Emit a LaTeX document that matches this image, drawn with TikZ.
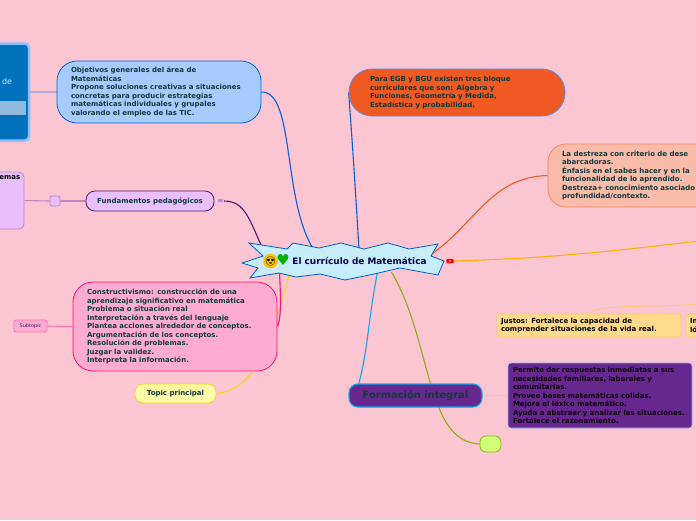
\documentclass[tikz,border=0pt]{standalone}
\usepackage{fontspec}
\setmainfont{DejaVu Sans}
\newfontfamily\emojifont{Noto Emoji}
\usetikzlibrary{calc,positioning,backgrounds}
\definecolor{bgpink}{HTML}{FCC5D2}
\definecolor{inktext}{HTML}{0E3B3A}
\definecolor{azul}{HTML}{0A5FD8}
\definecolor{morado}{HTML}{4A1A78}
\definecolor{rosa}{HTML}{FF1177}
\definecolor{naranja}{HTML}{F05A22}
\definecolor{ambar}{HTML}{FFB000}
\definecolor{celeste}{HTML}{12A5EE}
\definecolor{oliva}{HTML}{8CB014}
\definecolor{amarillo}{HTML}{F0D820}
\definecolor{uva}{HTML}{66288F}
\definecolor{lila}{HTML}{E9BFFF}
\definecolor{lilaborde}{HTML}{C084C0}
\definecolor{cielo}{HTML}{A6CBFF}
\definecolor{chicle}{HTML}{FFABD0}
\definecolor{salmon}{HTML}{FBBBAA}
\definecolor{miel}{HTML}{FFDA8C}
\definecolor{mielborde}{HTML}{FFC874}
\definecolor{lima}{HTML}{D0FF78}
\definecolor{marino}{HTML}{0071BC}
\definecolor{franja}{HTML}{8FBADD}
\definecolor{marco}{HTML}{8CBEFA}
\definecolor{enlace}{HTML}{B4AEDC}
\tikzset{
    topic/.style={draw, line width=0.8pt, rounded corners=#1, align=left, text=inktext, inner ysep=0pt,
        font=\bfseries\fontsize{7pt}{8.5pt}\selectfont},
    topic/.default=8pt,
    link/.style={line width=1.1pt},
    sublink/.style={line width=1.1pt}
}
\begin{document}
\begin{tikzpicture}[x=1pt, y=-1pt, line cap=round]
\useasboundingbox (0,0) rectangle (696,520);
\begin{scope}[on background layer]
    \fill[bgpink] (0,0) rectangle (696,520);
\end{scope}

% Imagen cortada
\node[topic=4pt, line width=2.5pt, draw=marco, fill=marino, minimum width=46pt, minimum height=97pt] (imagen) at (6,92) {};
\fill[franja] (-4,101) rectangle (26,115);
\node[text=white!80!cyan, font=\fontsize{8pt}{9pt}\selectfont] (imagende) at (7,81.5) {de};

% Ramas principales
\node[topic=20pt, draw=azul, fill=cielo, minimum width=204pt, minimum height=62pt, text width=176pt] (objetivos) at (159,92) {Objetivos generales del área de\\Matemáticas\\Propone soluciones creativas a situaciones\\concretas para producir estrategias\\matemáticas individuales y grupales\\valorando el empleo de las TIC.};
\node[topic=23pt, draw=azul!70!white, fill=naranja, minimum width=216pt, minimum height=47pt, text width=174pt] (bloque) at (457,92.5) {Para EGB y BGU existen tres bloque\\curriculares que son: Algebra y\\Funciones, Geometría y Medida,\\Estadística y probabilidad.};
\node[topic=18pt, draw=naranja!70!white, fill=salmon, minimum width=172pt, minimum height=63pt, text width=144pt] (destreza) at (634,175.5) {La destreza con criterio de dese\\abarcadoras.\\Énfasis en el sabes hacer y en la\\funcionalidad de lo aprendido.\\Destreza+ conocimiento asociado\\profundidad/contexto.};

% Fundamentos
\node[topic=5pt, draw=lilaborde, fill=lila, minimum width=34pt, minimum height=57pt] (temas) at (7,200.5) {};
\node[font=\bfseries\fontsize{7pt}{8.5pt}\selectfont, inner sep=0pt, anchor=north east] (temastexto) at ($(temas.north east)+(-4,4)$) {emas};
\node[topic=2pt, draw=lilaborde, fill=lila, minimum width=10pt, minimum height=10pt, inner sep=0pt] (nodito) at (55,201) {};
\node[topic=9pt, draw=morado, fill=lila, minimum width=128pt, minimum height=20pt] (fundamentos) at (150,201) {Fundamentos pedagógicos};
\node[text=morado, fill=lila, inner sep=0.5pt, font=\fontsize{6pt}{6pt}\selectfont] (menu) at (220.5,201) {$\equiv$};

% Constructivismo
\node[topic=20pt, draw=rosa, fill=chicle, minimum width=204pt, minimum height=89pt, text width=176pt] (constructivismo) at (175,326.5) {Constructivismo: construcción de una\\aprendizaje significativo en matemática\\Problema o situación real\\Interpretación a través del lenguaje\\Plantea acciones alrededor de conceptos.\\Argumentación de los conceptos.\\Resolución de problemas.\\Juzgar la validez.\\Interpreta la información.};
\node[topic=2pt, draw=rosa!60!white, fill=chicle, text=morado, minimum width=33pt, minimum height=12pt, inner sep=0pt, font=\fontsize{5pt}{6pt}\selectfont] (subtopic) at (30.5,326) {Subtopic};
\node[topic=8pt, draw=amarillo, fill=yellow!35!white, minimum width=81pt, minimum height=19pt] (principal) at (175.5,393.5) {Topic principal};

% Hojas a la derecha
\node[topic=3pt, draw=mielborde, text=black, fill=miel, minimum width=184pt, minimum height=23pt, text width=176pt] (justos) at (589,325.5) {Justos: Fortalece la capacidad de\\comprender situaciones de la vida real.};
\node[topic=3pt, draw=mielborde, text=black, fill=miel, minimum width=30pt, minimum height=23pt, text width=22pt] (logico) at (701,325.5) {In\\ló};

\node[topic=9pt, line width=1.1pt, draw=celeste, fill=uva, minimum width=133pt, minimum height=23pt, font=\bfseries\fontsize{9.9pt}{11pt}\selectfont] (formacion) at (415.5,395.5) {Formación integral};
\node[topic=3pt, draw=azul!50!white, text=black!90!violet, fill=uva, minimum width=184pt, minimum height=65pt, text width=174pt] (permite) at (600,395.5) {Permite dar respuestas inmediatas a sus\\necesidades familiares, laborales y\\comunitarias.\\Provee bases matemáticas colidas.\\Mejora el léxico matemático.\\Ayuda a abstraer y analizar las situaciones.\\Fortalece el razonamiento.};
\node[topic=6pt, draw=oliva, fill=lima, minimum width=21pt, minimum height=16pt, inner sep=0pt] (vacio) at (490.5,444) {};

% Tema central
\draw[line width=0.8pt, draw=blue!55!cyan!80!black, fill=cyan!22!white] (242,263) -- (263,256) -- (249,243) -- (287,249) -- (293,243) -- (319,248) -- (341,243) -- (364,249) -- (388,243) -- (409,249) -- (438,244) -- (431,256) -- (444,261) -- (438,275) -- (400,268) -- (374,274) -- (345,280) -- (320,274) -- (296,277) -- (279,273) -- (250,278) -- (258,268) -- cycle;
\node[font=\bfseries\fontsize{8.9pt}{10pt}\selectfont, text=blue!30!black, minimum width=170pt, minimum height=22pt, inner sep=0pt] (central) at (343,261) {\hspace*{33pt}El currículo de Matemática};
\node[circle, fill=ambar!80!yellow, inner sep=0pt, minimum size=11pt, font=\emojifont\fontsize{9pt}{9pt}\selectfont] (cara) at (270.5,261) {😍};
\node[inner sep=0pt, text=green!70!black, font=\fontsize{15pt}{15pt}\selectfont] (corazon) at (283,260.5) {♥};
\node[draw=red, fill=red, rounded corners=1pt, minimum width=7pt, minimum height=4pt, inner sep=0pt] (punto) at (450,261) {};
\node[fill=white, circle, inner sep=0.6pt] (puntoin) at (450,261) {};

% Puntos libres, fuera de la imagen
\coordinate (salidaambar) at (700,241);
\coordinate (salidajustos) at (700,304);

% Conectores
\begin{scope}[on background layer]
    \draw[link, azul] (objetivos.east) .. controls (295,91) and (282,200) .. (central.159);
    \draw[link, azul] (bloque.west) .. controls (353,150) and (356,200) .. (central.35);
    \draw[link, morado] (menu.east) .. controls (246,201) and (250,222) .. (central.172);
    \draw[link, naranja] (destreza.west) .. controls (490,177) and (475,225) .. (central.3);
    \draw[link, ambar] (punto.east) .. controls (560,258) and (620,250) .. (salidaambar);
    \draw[link, celeste] (formacion.168) .. controls (368,350) and (368,320) .. (central.342);
    \draw[link, oliva] (central.347) .. controls (432,340) and (425,442) .. (vacio.west);
    \draw[link, amarillo] (central.192) .. controls (272,330) and (262,388) .. (principal.east);
    \draw[link, rosa] (central.190) .. controls (281,300) and (281,320) .. (constructivismo.east);
    \draw[line width=0.7pt, mielborde] (justos.north) .. controls (596,304) and (650,308) .. (salidajustos);
    \draw[sublink, enlace] (imagen.east) -- (objetivos.west);
    \draw[sublink, lilaborde] (temas.east) -- (nodito.west);
    \draw[sublink, lilaborde] (nodito.east) -- (fundamentos.west);
    \draw[sublink, rosa!60!white] (subtopic.east) -- (constructivismo.west);
    \draw[sublink, cielo!80!white] (formacion.east) -- (permite.west);
\end{scope}

\end{tikzpicture}
\end{document}
